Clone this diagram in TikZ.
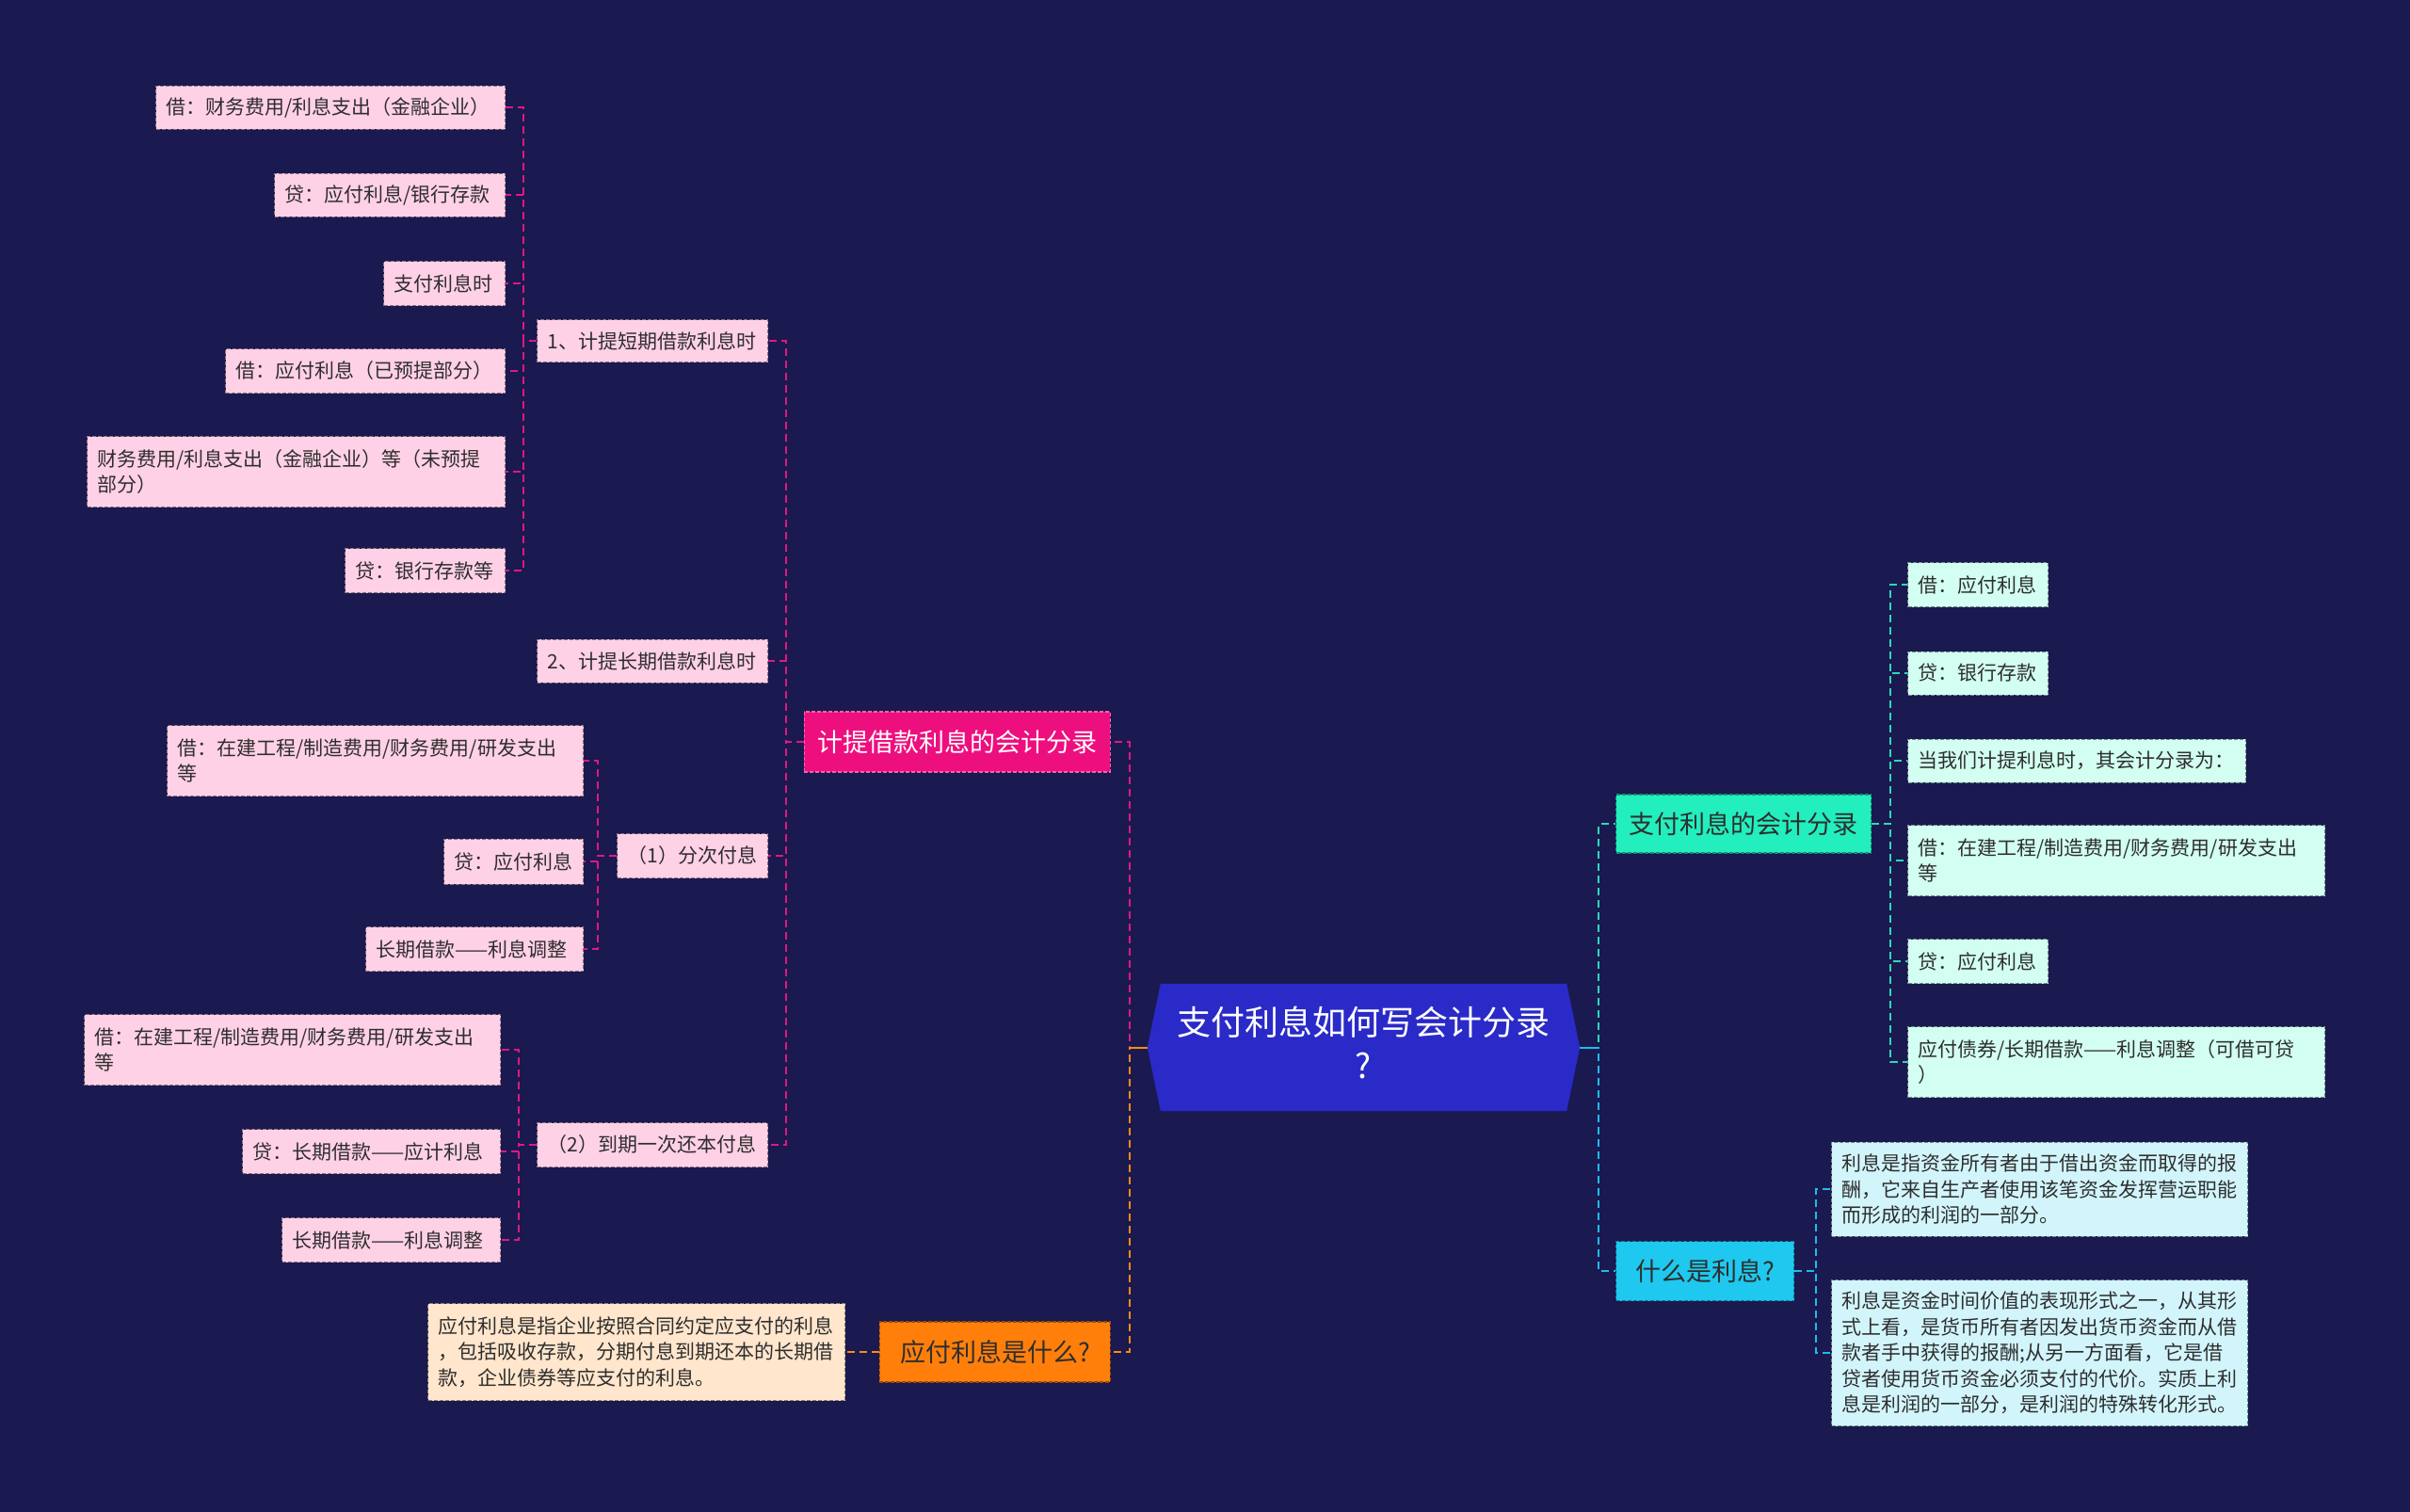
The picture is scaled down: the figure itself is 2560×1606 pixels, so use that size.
\documentclass[tikz,border=0pt]{standalone}
\usepackage{fontspec}
\setmainfont{Noto Sans CJK SC}
\newfontfamily\cjk{Noto Sans CJK SC}
\definecolor{bgc}{HTML}{1A1950}
\definecolor{rootc}{HTML}{2A2AC8}
\definecolor{pinkm}{HTML}{EE0F7E}
\definecolor{orangem}{HTML}{FF7F0A}
\definecolor{tealm}{HTML}{22EEBE}
\definecolor{cyanm}{HTML}{1EC8EE}
\definecolor{pinkl}{HTML}{FFD1E6}
\definecolor{peachl}{HTML}{FFE6CC}
\definecolor{mintl}{HTML}{D2FFF1}
\definecolor{cyanl}{HTML}{D2F5FC}
\definecolor{pinkln}{HTML}{E0197D}
\definecolor{orangeln}{HTML}{FF8A14}
\definecolor{tealln}{HTML}{2ED8B8}
\definecolor{cyanln}{HTML}{1EBCEA}
\definecolor{txt}{HTML}{2E2E2E}
\tikzset{
  base/.style={rectangle, dashed, line width=1pt, dash pattern=on 4pt off 2pt,
    inner xsep=11pt, inner ysep=0pt, align=left, text=txt,
    font=\cjk\fontsize{21}{27.5}\selectfont},
  pleaf/.style={base, fill=pinkl, draw=pinkl!55!black},
  oleaf/.style={base, fill=peachl, draw=peachl!55!black},
  mleaf/.style={base, fill=mintl, draw=mintl!55!black},
  cleaf/.style={base, fill=cyanl, draw=cyanl!55!black},
  mainn/.style={rectangle, dashed, line width=1.2pt, dash pattern=on 4pt off 2pt,
    inner sep=0pt, align=center, font=\cjk\fontsize{27}{33}\selectfont},
  conn/.style={dash pattern=on 8pt off 5pt, line width=2pt},
  wd/.style={text width=#1-22pt, minimum width=#1},
}
\begin{document}
\begin{tikzpicture}[x=1pt,y=-1pt]
\fill[bgc] (0,0) rectangle (2560,1606);
\useasboundingbox (0,0) rectangle (2560,1606);

% root
\node[minimum width=459pt, minimum height=135pt, inner sep=0pt] (root) at (1448.5,1112.5) {};
\fill[rootc] (root.west) -- ([xshift=14pt]root.north west) -- ([xshift=-14pt]root.north east)
  -- (root.east) -- ([xshift=-14pt]root.south east) -- ([xshift=14pt]root.south west) -- cycle;
\node[align=center, text=white, font=\cjk\fontsize{36}{46}\selectfont] (roottext) at ([yshift=5pt]root.center) {支付利息如何写会计分录\\?};

% main level 1
\node[mainn, fill=pinkm, draw=pinkm!65!white, text=white, minimum width=325pt, minimum height=64pt, anchor=east] (pk) at (1180,788) {计提借款利息的会计分录};
\node[mainn, fill=orangem, draw=orangem!60!black, text=txt, minimum width=245pt, minimum height=64pt, anchor=east] (or) at (1180,1436) {应付利息是什么?};
\node[mainn, fill=tealm, draw=tealm!60!black, text=txt, minimum width=271pt, minimum height=62pt, anchor=west] (tl) at (1716,875) {支付利息的会计分录};
\node[mainn, fill=cyanm, draw=cyanm!60!black, text=txt, minimum width=189pt, minimum height=63pt, anchor=west] (cy) at (1716,1350) {什么是利息?};

% pink level 2
\node[pleaf, wd=245pt, minimum height=45pt, anchor=east] (b1) at (816,362) {1、计提短期借款利息时};
\node[pleaf, wd=245pt, minimum height=46pt, anchor=east] (b2) at (816,702) {2、计提长期借款利息时};
\node[pleaf, wd=160pt, minimum height=47pt, anchor=east] (b3) at (816,909) {（1）分次付息};
\node[pleaf, wd=245pt, minimum height=47pt, anchor=east] (b4) at (816,1216) {（2）到期一次还本付息};

% pink level 3 under b1
\node[pleaf, wd=371pt, minimum height=46pt, anchor=east] (a1) at (537,114) {借：财务费用/利息支出（金融企业）};
\node[pleaf, wd=245pt, minimum height=46pt, anchor=east] (a2) at (537,207) {贷：应付利息/银行存款};
\node[pleaf, wd=129pt, minimum height=47pt, anchor=east] (a3) at (537,301) {支付利息时};
\node[pleaf, wd=297pt, minimum height=47pt, anchor=east] (a4) at (537,394) {借：应付利息（已预提部分）};
\node[pleaf, wd=444pt, minimum height=75pt, anchor=east] (a5) at (537,501) {财务费用/利息支出（金融企业）等（未预提\\部分）};
\node[pleaf, wd=170pt, minimum height=47pt, anchor=east] (a6) at (537,606) {贷：银行存款等};

% under b3
\node[pleaf, wd=442pt, minimum height=75pt, anchor=east] (c1) at (620,808) {借：在建工程/制造费用/财务费用/研发支出\\等};
\node[pleaf, wd=148pt, minimum height=48pt, anchor=east] (c2) at (620,915) {贷：应付利息};
\node[pleaf, wd=231pt, minimum height=47pt, anchor=east] (c3) at (620,1008) {长期借款——利息调整};

% under b4
\node[pleaf, wd=442pt, minimum height=75pt, anchor=east] (d1) at (532,1115) {借：在建工程/制造费用/财务费用/研发支出\\等};
\node[pleaf, wd=274pt, minimum height=47pt, anchor=east] (d2) at (532,1223) {贷：长期借款——应计利息};
\node[pleaf, wd=232pt, minimum height=47pt, anchor=east] (d3) at (532,1317) {长期借款——利息调整};

% orange leaf
\node[oleaf, wd=443pt, minimum height=103pt, anchor=east] (e1) at (898,1436) {应付利息是指企业按照合同约定应支付的利息\\，包括吸收存款，分期付息到期还本的长期借\\款，企业债券等应支付的利息。};

% teal leaves
\node[mleaf, wd=149pt, minimum height=47pt, anchor=west] (f1) at (2026,621) {借：应付利息};
\node[mleaf, wd=149pt, minimum height=46pt, anchor=west] (f2) at (2026,715) {贷：银行存款};
\node[mleaf, wd=359pt, minimum height=46pt, anchor=west] (f3) at (2026,808) {当我们计提利息时，其会计分录为：};
\node[mleaf, wd=443pt, minimum height=75pt, anchor=west] (f4) at (2026,914) {借：在建工程/制造费用/财务费用/研发支出\\等};
\node[mleaf, wd=149pt, minimum height=47pt, anchor=west] (f5) at (2026,1021) {贷：应付利息};
\node[mleaf, wd=443pt, minimum height=75pt, anchor=west] (f6) at (2026,1128) {应付债券/长期借款——利息调整（可借可贷\\）};

% cyan leaves
\node[cleaf, wd=442pt, minimum height=100pt, anchor=west] (g1) at (1945,1263) {利息是指资金所有者由于借出资金而取得的报\\酬，它来自生产者使用该笔资金发挥营运职能\\而形成的利润的一部分。};
\node[cleaf, wd=442pt, minimum height=155pt, anchor=west] (g2) at (1945,1437) {利息是资金时间价值的表现形式之一，从其形\\式上看，是货币所有者因发出货币资金而从借\\款者手中获得的报酬;从另一方面看，它是借\\贷者使用货币资金必须支付的代价。实质上利\\息是利润的一部分，是利润的特殊转化形式。};

% connectors
\draw[conn, pinkln] (root.west) -- ++(-19,0) |- (pk.east);
\draw[conn, orangeln] (root.west) -- ++(-19,0) |- (or.east);
\draw[conn, tealln] (root.east) -- ++(20,0) |- (tl.west);
\draw[conn, cyanln] (root.east) -- ++(20,0) |- (cy.west);
\draw[line width=2pt, orangeln] (root.west) -- ++(-19,0);
\draw[line width=2pt, cyanln] (root.east) -- ++(20,0);

\foreach \c in {b1,b2,b3,b4} \draw[conn, pinkln] (pk.west) -- ++(-19,0) |- (\c.east);
\foreach \c in {a1,a2,a3,a4,a5,a6} \draw[conn, pinkln] (b1.west) -- ++(-14,0) |- (\c.east);
\foreach \c in {c1,c2,c3} \draw[conn, pinkln] (b3.west) -- ++(-20,0) |- (\c.east);
\foreach \c in {d1,d2,d3} \draw[conn, pinkln] (b4.west) -- ++(-19,0) |- (\c.east);
\draw[conn, orangeln] (or.west) -- (e1.east);
\foreach \c in {f1,f2,f3,f4,f5,f6} \draw[conn, tealln] (tl.east) -- ++(20,0) |- (\c.west);
\foreach \c in {g1,g2} \draw[conn, cyanln] (cy.east) -- ++(23,0) |- (\c.west);
\end{tikzpicture}
\end{document}
